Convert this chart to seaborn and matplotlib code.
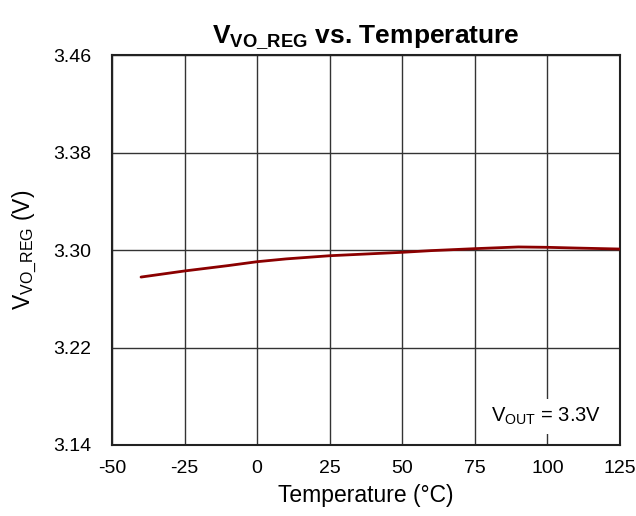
import matplotlib
matplotlib.use("Agg")
import matplotlib.pyplot as plt
import seaborn as sns
import pandas as pd

temperature = [-40, -25, -10, 0, 10, 25, 40, 50, 60, 75, 90, 100, 110, 125]
vvo_reg = [3.2778, 3.2828, 3.2872, 3.2904, 3.2927, 3.2953, 3.2970, 3.2981, 3.2995,
           3.3011, 3.3025, 3.3022, 3.3016, 3.3008]
x_ticks = [-50, -25, 0, 25, 50, 75, 100, 125]
y_ticks = [3.14, 3.22, 3.30, 3.38, 3.46]

sns.set_theme(style="white")
plt.rcParams['font.family'] = ['Liberation Sans', 'DejaVu Sans']
plt.rcParams['mathtext.fontset'] = 'custom'
plt.rcParams['mathtext.rm'] = 'Liberation Sans'
plt.rcParams['mathtext.it'] = 'Liberation Sans'
plt.rcParams['mathtext.bf'] = 'Liberation Sans:bold'

df = pd.DataFrame({"Temperature": temperature, "V": vvo_reg})

fig = plt.figure(figsize=(6.36, 5.16), dpi=100)
ax = fig.add_axes([0.1761, 0.1376, 0.7987, 0.7558])

sns.lineplot(data=df, x="Temperature", y="V", ax=ax, color="#8B0000", linewidth=2.0, zorder=3)

ax.set_xlim(-50, 125)
ax.set_ylim(3.14, 3.46)
ax.set_xticks(x_ticks)
ax.set_yticks(y_ticks)
ax.set_xticklabels([str(t) for t in x_ticks])
ax.set_yticklabels([f"{t:.2f}" for t in y_ticks])
ax.tick_params(axis='both', labelsize=14, length=0, colors='black')
ax.tick_params(axis='x', pad=11)
ax.tick_params(axis='y', pad=15)
ax.grid(True, color='#333333', linewidth=1.0)
for s in ax.spines.values():
    s.set_color('#222222')
    s.set_linewidth(1.5)

ax.set_xlabel("Temperature (°C)", fontsize=16.5, color='black', labelpad=5)
ax.set_ylabel(r"$\mathregular{V_{VO\_REG}}$ (V)", fontsize=16.5, color='black', labelpad=10)
ax.set_title(r"$\mathbf{V_{VO\_REG}}$ vs. Temperature", fontsize=19, fontweight='bold', color='black', pad=9)

ax.text(0.963, 0.045, r"$\mathregular{V_{OUT}}$ = 3.3V", transform=ax.transAxes,
        ha='right', va='bottom', fontsize=14.5, color='black', zorder=4,
        bbox=dict(facecolor='white', edgecolor='none', pad=5))

fig.savefig("out.png", dpi=100)
